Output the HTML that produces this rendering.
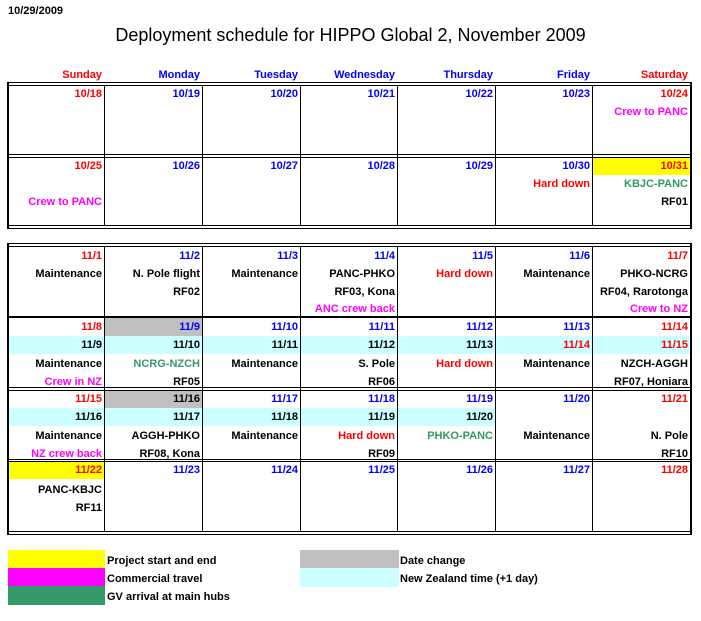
<!DOCTYPE html>
<html><head><meta charset="utf-8"><style>
body{margin:0;background:#fff;width:701px;height:621px;position:relative;overflow:hidden;font-family:"Liberation Sans",Arial,sans-serif}
div{position:absolute;box-sizing:border-box}
.t{height:18px;line-height:19px;text-align:right;padding-right:3px;font-weight:bold;font-size:11px;white-space:nowrap;color:#000}
.c0{left:8px;width:97px}.c1{left:105px;width:98px}.c2{left:203px;width:98px}.c3{left:301px;width:97px}.c4{left:398px;width:98px}.c5{left:496px;width:97px}.c6{left:593px;width:98px}
.r{color:#f00}.b{color:#00f}.m{color:#f0f}.g{color:#339966}
.h{left:8px;width:684px;height:1px;background:#000}
.v{width:1px;background:#000}
.cy{background:#ccffff}.gy{background:#c0c0c0}.ye{background:#ffff00}
.lg{font-weight:bold;font-size:11px;height:18px;line-height:22px}
</style></head><body>
<div style="left:8px;top:5px;font-size:11px;font-weight:bold">10/29/2009</div>
<div style="left:0;width:701px;top:25px;text-align:center;font-size:18px">Deployment schedule for HIPPO Global 2, November 2009</div>
<div class="t c0 r" style="top:66px">Sunday</div><div class="t c1 b" style="top:66px">Monday</div><div class="t c2 b" style="top:66px">Tuesday</div><div class="t c3 b" style="top:66px">Wednesday</div><div class="t c4 b" style="top:66px">Thursday</div><div class="t c5 b" style="top:66px">Friday</div><div class="t c6 r" style="top:66px">Saturday</div>

<div class="c6 ye" style="top:157px;height:18px"></div>
<div class="c1 gy" style="top:318px;height:18px"></div>
<div class="cy" style="left:8px;width:684px;top:336px;height:18px"></div>
<div class="c1 gy" style="top:390px;height:18px"></div>
<div class="cy" style="left:8px;width:488px;top:408px;height:18px"></div>
<div class="c0 ye" style="top:461px;height:18px"></div>

<div class="t c0 r" style="top:85px">10/18</div><div class="t c1 b" style="top:85px">10/19</div><div class="t c2 b" style="top:85px">10/20</div><div class="t c3 b" style="top:85px">10/21</div><div class="t c4 b" style="top:85px">10/22</div><div class="t c5 b" style="top:85px">10/23</div><div class="t c6 r" style="top:85px">10/24</div>
<div class="t c6 m" style="top:103px">Crew to PANC</div>
<div class="t c0 r" style="top:157px">10/25</div><div class="t c1 b" style="top:157px">10/26</div><div class="t c2 b" style="top:157px">10/27</div><div class="t c3 b" style="top:157px">10/28</div><div class="t c4 b" style="top:157px">10/29</div><div class="t c5 b" style="top:157px">10/30</div><div class="t c6 r" style="top:157px">10/31</div>
<div class="t c5 r" style="top:175px">Hard down</div><div class="t c6 g" style="top:175px">KBJC-PANC</div>
<div class="t c0 m" style="top:193px">Crew to PANC</div><div class="t c6" style="top:193px">RF01</div>
<div class="t c0 r" style="top:247px">11/1</div><div class="t c1 b" style="top:247px">11/2</div><div class="t c2 b" style="top:247px">11/3</div><div class="t c3 b" style="top:247px">11/4</div><div class="t c4 b" style="top:247px">11/5</div><div class="t c5 b" style="top:247px">11/6</div><div class="t c6 r" style="top:247px">11/7</div>
<div class="t c0" style="top:265px">Maintenance</div><div class="t c1" style="top:265px">N. Pole flight</div><div class="t c2" style="top:265px">Maintenance</div><div class="t c3" style="top:265px">PANC-PHKO</div><div class="t c4 r" style="top:265px">Hard down</div><div class="t c5" style="top:265px">Maintenance</div><div class="t c6" style="top:265px">PHKO-NCRG</div>
<div class="t c1" style="top:283px">RF02</div><div class="t c3" style="top:283px">RF03, Kona</div><div class="t c6" style="top:283px">RF04, Rarotonga</div>
<div class="t c3 m" style="top:300px">ANC crew back</div><div class="t c6 m" style="top:300px">Crew to NZ</div>
<div class="t c0 r" style="top:318px">11/8</div><div class="t c1 b" style="top:318px">11/9</div><div class="t c2 b" style="top:318px">11/10</div><div class="t c3 b" style="top:318px">11/11</div><div class="t c4 b" style="top:318px">11/12</div><div class="t c5 b" style="top:318px">11/13</div><div class="t c6 r" style="top:318px">11/14</div>
<div class="t c0" style="top:336px">11/9</div><div class="t c1" style="top:336px">11/10</div><div class="t c2" style="top:336px">11/11</div><div class="t c3" style="top:336px">11/12</div><div class="t c4" style="top:336px">11/13</div><div class="t c5 r" style="top:336px">11/14</div><div class="t c6 r" style="top:336px">11/15</div>
<div class="t c0" style="top:355px">Maintenance</div><div class="t c1 g" style="top:355px">NCRG-NZCH</div><div class="t c2" style="top:355px">Maintenance</div><div class="t c3" style="top:355px">S. Pole</div><div class="t c4 r" style="top:355px">Hard down</div><div class="t c5" style="top:355px">Maintenance</div><div class="t c6" style="top:355px">NZCH-AGGH</div>
<div class="t c0 m" style="top:373px">Crew in NZ</div><div class="t c1" style="top:373px">RF05</div><div class="t c3" style="top:373px">RF06</div><div class="t c6" style="top:373px">RF07, Honiara</div>
<div class="t c0 r" style="top:390px">11/15</div><div class="t c1" style="top:390px">11/16</div><div class="t c2 b" style="top:390px">11/17</div><div class="t c3 b" style="top:390px">11/18</div><div class="t c4 b" style="top:390px">11/19</div><div class="t c5 b" style="top:390px">11/20</div><div class="t c6 r" style="top:390px">11/21</div>
<div class="t c0" style="top:408px">11/16</div><div class="t c1" style="top:408px">11/17</div><div class="t c2" style="top:408px">11/18</div><div class="t c3" style="top:408px">11/19</div><div class="t c4" style="top:408px">11/20</div>
<div class="t c0" style="top:427px">Maintenance</div><div class="t c1" style="top:427px">AGGH-PHKO</div><div class="t c2" style="top:427px">Maintenance</div><div class="t c3 r" style="top:427px">Hard down</div><div class="t c4 g" style="top:427px">PHKO-PANC</div><div class="t c5" style="top:427px">Maintenance</div><div class="t c6" style="top:427px">N. Pole</div>
<div class="t c0 m" style="top:445px">NZ crew back</div><div class="t c1" style="top:445px">RF08, Kona</div><div class="t c3" style="top:445px">RF09</div><div class="t c6" style="top:445px">RF10</div>
<div class="t c0 r" style="top:461px">11/22</div><div class="t c1 b" style="top:461px">11/23</div><div class="t c2 b" style="top:461px">11/24</div><div class="t c3 b" style="top:461px">11/25</div><div class="t c4 b" style="top:461px">11/26</div><div class="t c5 b" style="top:461px">11/27</div><div class="t c6 r" style="top:461px">11/28</div>
<div class="t c0" style="top:481px">PANC-KBJC</div>
<div class="t c0" style="top:499px">RF11</div>

<div class="h" style="top:82px"></div><div class="h" style="top:85px"></div>
<div class="h" style="top:154px"></div><div class="h" style="top:157px"></div>
<div class="h" style="top:225px"></div><div class="h" style="top:228px"></div>
<div class="h" style="top:243px"></div><div class="h" style="top:246px"></div>
<div class="h" style="top:316px;height:2px"></div>
<div class="h" style="top:387px"></div><div class="h" style="top:390px"></div>
<div class="h" style="top:459px"></div><div class="h" style="top:461px"></div>
<div class="h" style="top:531px"></div><div class="h" style="top:534px"></div>
<div class="v" style="left:7px;top:82px;height:147px;width:2px"></div>
<div class="v" style="left:104px;top:85px;height:141px"></div>
<div class="v" style="left:202px;top:85px;height:141px"></div>
<div class="v" style="left:300px;top:85px;height:141px"></div>
<div class="v" style="left:397px;top:85px;height:141px"></div>
<div class="v" style="left:495px;top:85px;height:141px"></div>
<div class="v" style="left:592px;top:85px;height:141px"></div>
<div class="v" style="left:690px;top:82px;height:147px;width:2px"></div>
<div class="v" style="left:7px;top:243px;height:292px;width:2px"></div>
<div class="v" style="left:104px;top:246px;height:286px"></div>
<div class="v" style="left:202px;top:246px;height:286px"></div>
<div class="v" style="left:300px;top:246px;height:286px"></div>
<div class="v" style="left:397px;top:246px;height:286px"></div>
<div class="v" style="left:495px;top:246px;height:286px"></div>
<div class="v" style="left:592px;top:246px;height:286px"></div>
<div class="v" style="left:690px;top:243px;height:292px;width:2px"></div>

<div class="ye" style="left:8px;top:550px;width:97px;height:18px"></div>
<div style="left:8px;top:568px;width:97px;height:18px;background:#ff00ff"></div>
<div style="left:8px;top:586px;width:97px;height:19px;background:#339966"></div>
<div class="gy" style="left:300px;top:550px;width:99px;height:18px"></div>
<div class="cy" style="left:300px;top:568px;width:99px;height:19px"></div>
<div class="lg" style="left:107px;top:550px">Project start and end</div>
<div class="lg" style="left:107px;top:568px">Commercial travel</div>
<div class="lg" style="left:107px;top:586px">GV arrival at main hubs</div>
<div class="lg" style="left:400px;top:550px">Date change</div>
<div class="lg" style="left:400px;top:568px">New Zealand time (+1 day)</div>
</body></html>
